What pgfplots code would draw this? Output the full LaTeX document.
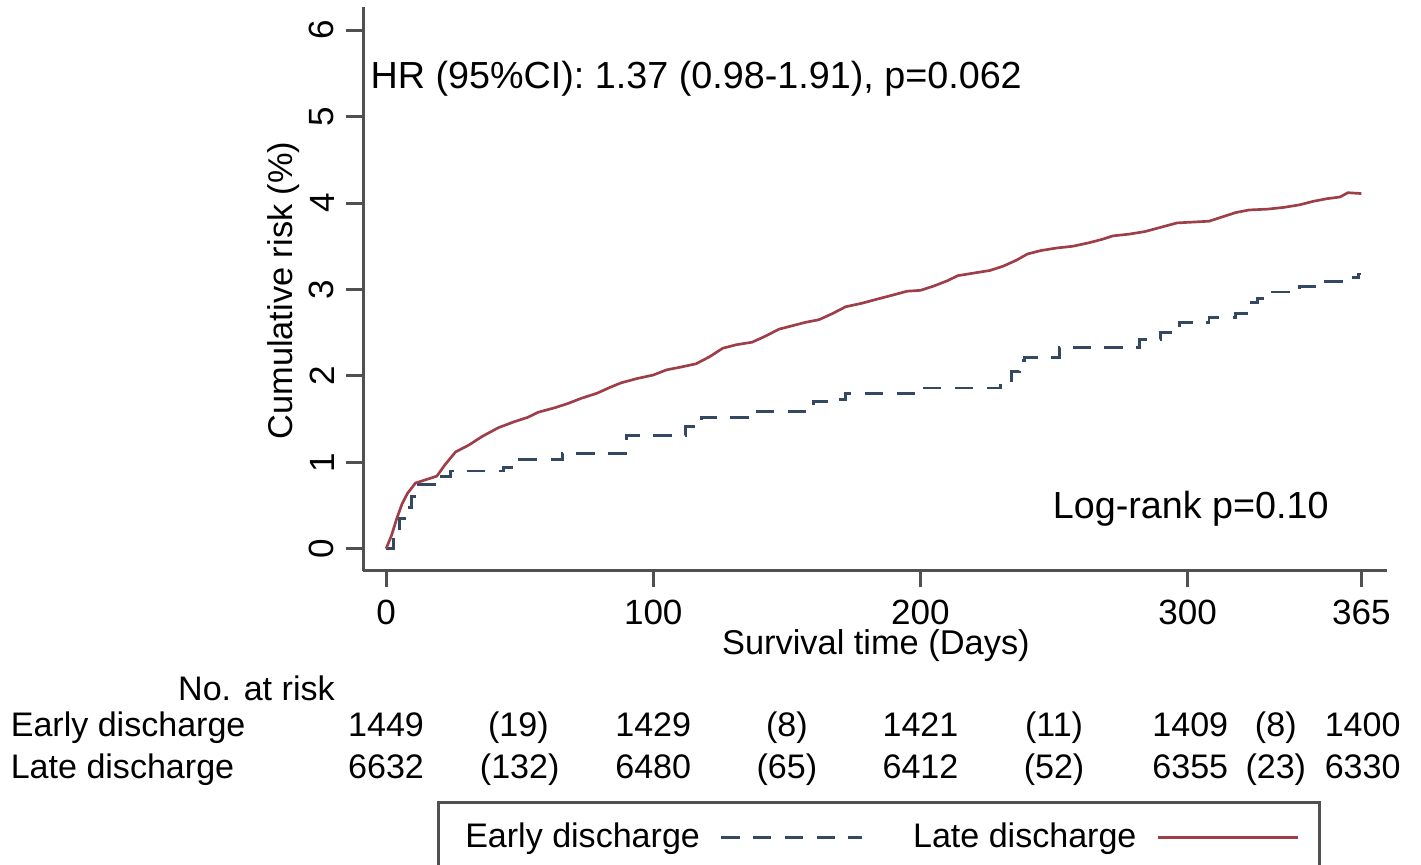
\documentclass[border=0pt]{standalone}
\usepackage{pgfplots}
\pgfplotsset{compat=1.18}
\usepackage{fontspec}
\setmainfont{Liberation Sans}

\definecolor{latered}{RGB}{158,62,72}
\definecolor{earlyblue}{RGB}{52,72,98}
\definecolor{axisgray}{RGB}{80,80,80}
\newcommand{\annfont}{\fontsize{11.3}{13.5}\selectfont}
\newcommand{\tabfont}{\fontsize{10.2}{12.2}\selectfont}
\tikzset{rownum/.style={anchor=base, inner sep=0pt, font=\tabfont}}

\begin{document}
\fontsize{10.5}{12.6}\selectfont
\begin{tikzpicture}[font=\fontsize{10.5}{12.6}\selectfont]
\begin{axis}[
    scale only axis,
    width=306.6pt, height=168.9pt,
    xmin=-8.6, xmax=374.5,
    ymin=-0.255, ymax=6.27,
    clip=false,
    axis lines*=left,
    axis line style={axisgray, line width=0.9pt, -},
    every tick/.style={axisgray, line width=0.9pt},
    tick align=outside,
    major tick length=5pt,
    xtick={0,100,200,300,365},
    ytick={0,1,2,3,4,5,6},
    yticklabel style={rotate=90, anchor=south},
    /pgf/number format/assume math mode=true,
    xlabel={Survival time (Days)},
    ylabel={Cumulative risk (\%)},
    xlabel style={at={(axis description cs:0.501,-0.133)}, anchor=center, font=\fontsize{10.3}{12}\selectfont},
    ylabel style={at={(axis description cs:-0.078,0.497)}, anchor=center, font=\fontsize{10.3}{12}\selectfont},
    legend plot pos=right,
    legend image code/.code={\path (0pt,0pt); \draw[#1] (4pt,0pt) -- (46pt,0pt);},
    legend style={at={(axis description cs:0.0724,-0.4085)}, anchor=north west,
        draw=axisgray, line width=0.8pt, inner xsep=6pt, inner ysep=4pt,
        legend columns=2, legend cell align=left, font=\tabfont,
        /tikz/every even column/.append style={column sep=13pt}},
]
% Early discharge (Kaplan-Meier, 1 - S)
\addplot[const plot, color=earlyblue, line width=0.85pt, dash pattern=on 5.5pt off 4pt] coordinates {
(0,0) (2.7,0.21) (5,0.35) (8,0.48) (9.6,0.60) (11.5,0.74) (19,0.84) (24,0.90)
(44,0.94) (47,0.98) (50,1.03) (66,1.10) (90,1.31) (112,1.41) (118,1.52)
(138,1.59) (160,1.70) (168,1.73) (172,1.80) (198,1.86) (230,1.95) (234,2.05)
(237,2.18) (239,2.21) (252,2.33) (282,2.42) (290,2.50) (297,2.62) (308,2.68)
(318,2.72) (323,2.85) (326,2.90) (330,2.97) (342,3.03) (350,3.09) (360,3.14)
(364,3.18) (365,3.18)
};
\addlegendentry{Early discharge}
% Late discharge
\addplot[sharp plot, color=latered, line width=0.8pt, line join=round] coordinates {
(0,0) (2,0.15) (4,0.35) (6,0.52) (8,0.64) (11,0.76) (15,0.80) (19,0.84)
(22,0.97) (26,1.12) (31,1.20) (36,1.30) (42,1.40) (48,1.47) (53,1.52)
(57,1.58) (63,1.63) (68,1.68) (73,1.74) (79,1.80) (84,1.87) (88,1.92)
(94,1.97) (100,2.01) (105,2.07) (110,2.10) (116,2.14) (121,2.22) (126,2.32)
(131,2.36) (137,2.39) (142,2.46) (147,2.54) (152,2.58) (157,2.62) (162,2.65)
(167,2.72) (172,2.80) (178,2.84) (184,2.89) (189,2.93) (195,2.98) (200,2.99)
(205,3.04) (210,3.10) (214,3.16) (220,3.19) (226,3.22) (231,3.27) (236,3.34)
(240,3.41) (245,3.45) (251,3.48) (257,3.50) (263,3.54) (268,3.58) (272,3.62)
(278,3.64) (284,3.67) (290,3.72) (296,3.77) (302,3.78) (308,3.79) (313,3.84)
(318,3.89) (323,3.92) (330,3.93) (336,3.95) (342,3.98) (347,4.02) (352,4.05)
(357,4.07) (360,4.12) (365,4.11)
};
\addlegendentry{Late discharge}

% annotations
\node[anchor=base west, inner sep=0pt, font=\annfont] at (axis cs:-6,5.32) {HR (95\%CI): 1.37 (0.98-1.91), p=0.062};
\node[anchor=base west, inner sep=0pt, font=\annfont] at (axis cs:249.3,0.35) {Log-rank p=0.10};

% number at risk table
\node[anchor=base east, inner sep=0pt, font=\tabfont] at (axis cs:-19,-1.76) {No. at risk};
\node[anchor=base west, inner sep=0pt, font=\tabfont] at (axis cs:-140.7,-2.17) {Early discharge};
\node[anchor=base west, inner sep=0pt, font=\tabfont] at (axis cs:-140.7,-2.66) {Late discharge};

\node[rownum] at (axis cs:0,-2.17) {1449};
\node[rownum] at (axis cs:49.5,-2.17) {(19)};
\node[rownum] at (axis cs:100,-2.17) {1429};
\node[rownum] at (axis cs:150,-2.17) {(8)};
\node[rownum] at (axis cs:200,-2.17) {1421};
\node[rownum] at (axis cs:250,-2.17) {(11)};
\node[rownum] at (axis cs:301,-2.17) {1409};
\node[rownum] at (axis cs:333,-2.17) {(8)};
\node[rownum] at (axis cs:365.5,-2.17) {1400};

\node[rownum] at (axis cs:0,-2.66) {6632};
\node[rownum] at (axis cs:50,-2.66) {(132)};
\node[rownum] at (axis cs:100,-2.66) {6480};
\node[rownum] at (axis cs:150,-2.66) {(65)};
\node[rownum] at (axis cs:200,-2.66) {6412};
\node[rownum] at (axis cs:250,-2.66) {(52)};
\node[rownum] at (axis cs:301,-2.66) {6355};
\node[rownum] at (axis cs:333,-2.66) {(23)};
\node[rownum] at (axis cs:365.5,-2.66) {6330};

\coordinate (bbsw) at (axis cs:-144.5,-3.65);
\coordinate (bbne) at (axis cs:387.35,6.35);
\end{axis}
\pgfresetboundingbox
\useasboundingbox (bbsw) rectangle (bbne);
\end{tikzpicture}
\end{document}
